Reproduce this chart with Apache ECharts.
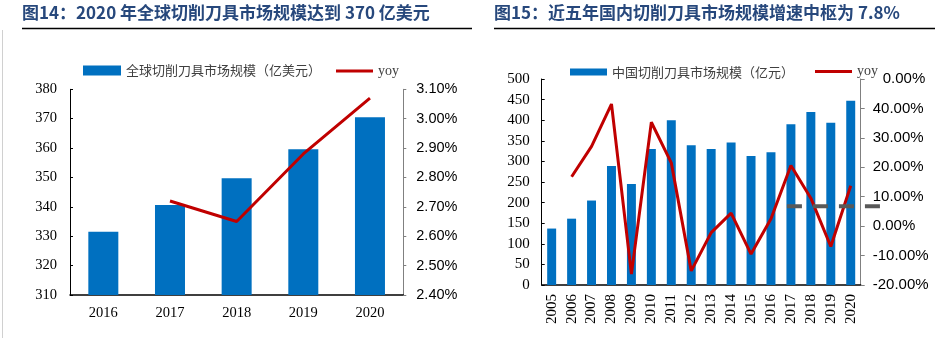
<!DOCTYPE html>
<html><head><meta charset="utf-8">
<script src="https://cdn.jsdelivr.net/npm/echarts@6/dist/echarts.min.js"></script>
<style>html,body{margin:0;padding:0;background:#fff}#c{width:935px;height:338px}</style>
</head><body><div id="c"></div>
<script>
// ---- Figure 14 data ----
const years1 = ['2016','2017','2018','2019','2020'];
const globalSize = [331.5, 340.6, 349.7, 359.6, 370.5];
const globalYoy = [null, 2.72, 2.65, 2.88, 3.07];
const title1 = '图14：2020 年全球切削刀具市场规模达到 370 亿美元';
const bar1Name = '全球切削刀具市场规模（亿美元）';
// ---- Figure 15 data ----
const years2 = ['2005','2006','2007','2008','2009','2010','2011','2012','2013','2014','2015','2016','2017','2018','2019','2020'];
const chinaSize = [137,161,205,289,245,330,400,339,330,346,313,322,390,420,394,447];
const chinaYoy = [null,16.8,27.1,41.5,-16.3,35.3,21.5,-15.2,-2.2,4.4,-9.5,2.5,20.6,9.5,-6.9,13.7];
const centerValue = 6.8;            // drawn position of the 7.8% pivot line
const centerSpan = [11.8, 16.5];    // category-index span of the dashed line
const title2 = '图15：近五年国内切削刀具市场规模增速中枢为 7.8%';
const bar2Name = '中国切削刀具市场规模（亿元）';

const BLUE = '#0070c0', RED = '#c00000';
const SERIF = 'Liberation Serif', SANS = 'Liberation Sans', CJK = 'Noto Sans CJK SC';

const chart = echarts.init(document.getElementById('c'), null, {renderer:'canvas'});
chart.setOption({
  animation: false,
  title: [
    {text: title1, left: 22, top: 4, padding: 0,
     textStyle: {fontFamily: CJK, fontSize: 17, fontWeight: 'bold', color: '#27487c'}},
    {text: title2, left: 494, top: 4, padding: 0,
     textStyle: {fontFamily: CJK, fontSize: 17, fontWeight: 'bold', color: '#27487c'}}
  ],
  graphic: [
    {type:'line', shape:{x1:22,y1:28.5,x2:472,y2:28.5}, style:{stroke:'#000',lineWidth:1.5}},
    {type:'line', shape:{x1:494,y1:28.5,x2:935,y2:28.5}, style:{stroke:'#000',lineWidth:1.5}},
    {type:'line', shape:{x1:2.5,y1:30,x2:2.5,y2:338}, style:{stroke:'#d0d0d0',lineWidth:1}}
  ],
  legend: [
    {data:[{name: bar1Name, icon:'rect'}], left:83, top:64, padding:0, itemWidth:38, itemHeight:10,
     textStyle:{fontFamily:CJK, fontSize:13, color:'#404040'}},
    {data:[{name:'yoy', icon:'rect'}], left:336, top:64, padding:0, itemWidth:37, itemHeight:3,
     textStyle:{fontFamily:SERIF, fontSize:14, color:'#404040'}},
    {data:[{name: bar2Name, icon:'rect'}], left:570, top:65.5, padding:0, itemWidth:37, itemHeight:7,
     textStyle:{fontFamily:CJK, fontSize:13, color:'#404040'}},
    {data:[{name:'yoy', icon:'rect'}], left:815, top:64.5, padding:0, itemWidth:37, itemHeight:3,
     textStyle:{fontFamily:SERIF, fontSize:14, color:'#404040'}}
  ],
  grid: [
    {left:70, top:89.3, width:333.3, height:205.7},
    {left:541.7, top:79, width:319, height:206},
    {left:541.7, top:79, width:338.94, height:206}
  ],
  xAxis: [
    {type:'category', gridIndex:0, data: years1,
     axisLine:{lineStyle:{color:'#000', width:1.5}},
     axisTick:{inside:true, length:4, lineStyle:{color:'#000'}},
     axisLabel:{fontFamily:SERIF, fontSize:14.5, color:'#000', margin:11}},
    {type:'category', gridIndex:1, data: years2,
     axisLine:{lineStyle:{color:'#000', width:1.5}},
     axisTick:{inside:true, length:4, lineStyle:{color:'#000'}},
     axisLabel:{fontFamily:SERIF, fontSize:15, color:'#000', rotate:90, margin:9, interval:0}},
    {type:'value', gridIndex:2, min:-0.5, max:16.5, show:false}
  ],
  yAxis: [
    {type:'value', gridIndex:0, min:310, max:380, interval:10, position:'left',
     axisLine:{show:true, lineStyle:{color:'#000'}},
     axisTick:{show:true, inside:true, length:3, lineStyle:{color:'#000'}},
     splitLine:{show:false},
     axisLabel:{fontFamily:SERIF, fontSize:14.5, color:'#000', margin:13}},
    {type:'value', gridIndex:0, min:2.4, max:3.1, interval:0.1, position:'right',
     axisLine:{show:true, lineStyle:{color:'#808080'}},
     axisTick:{show:true, length:3, lineStyle:{color:'#808080'}},
     splitLine:{show:false},
     axisLabel:{fontFamily:SANS, fontSize:14.5, color:'#000', margin:13,
       formatter: v => v.toFixed(2) + '%'}},
    {type:'value', gridIndex:1, min:0, max:500, interval:50, position:'left',
     axisLine:{show:true, lineStyle:{color:'#000'}},
     axisTick:{show:true, inside:true, length:3, lineStyle:{color:'#000'}},
     splitLine:{show:false},
     axisLabel:{fontFamily:SERIF, fontSize:15, color:'#000', margin:12}},
    {type:'value', gridIndex:1, min:-20, max:50, interval:10, position:'right',
     axisLine:{show:true, lineStyle:{color:'#808080'}},
     axisTick:{show:true, length:4, lineStyle:{color:'#808080'}},
     splitLine:{show:false},
     axisLabel:{fontFamily:SANS, fontSize:15, color:'#000', margin:12,
       formatter: v => v >= 50 ? '{t|0.00%}' : v.toFixed(2) + '%',
       rich:{t:{fontFamily:SANS, fontSize:15, color:'#000', padding:[0,0,0,10]}}}},
    {type:'value', gridIndex:2, min:-20, max:50, show:false}
  ],
  series: [
    {name: bar1Name, type:'bar', xAxisIndex:0, yAxisIndex:0, data: globalSize,
     barWidth:'45%', itemStyle:{color:BLUE}},
    {name:'yoy', type:'line', xAxisIndex:0, yAxisIndex:1, data: globalYoy,
     symbol:'none', itemStyle:{color:RED}, lineStyle:{color:RED, width:3}},
    {name: bar2Name, type:'bar', xAxisIndex:1, yAxisIndex:2, data: chinaSize,
     barWidth:'45%', itemStyle:{color:BLUE}},
    {name:'yoy', type:'line', xAxisIndex:1, yAxisIndex:3, data: chinaYoy,
     symbol:'none', itemStyle:{color:RED}, lineStyle:{color:RED, width:3}},
    {name:'中枢', type:'line', xAxisIndex:2, yAxisIndex:4, clip:false,
     data: centerSpan.map(x => [x, centerValue]), symbol:'none',
     lineStyle:{color:'#595959', width:4, type:[15,11]}, z:10}
  ]
});
</script></body></html>
